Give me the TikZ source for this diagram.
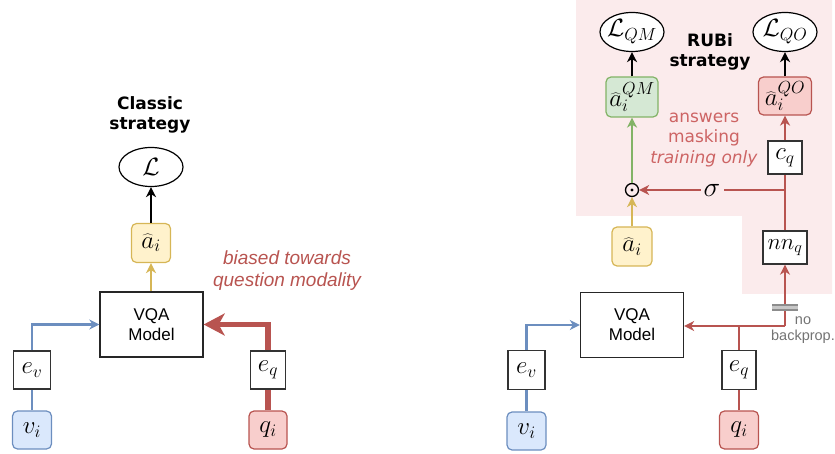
\documentclass[tikz,border=0pt]{standalone}
\usepackage{fix-cm}
\usepackage{fontspec}
\newfontfamily\arialf{Liberation Sans}
\newfontfamily\verdf{DejaVu Sans}
\usetikzlibrary{arrows.meta,shapes.geometric}
\definecolor{pinkbg}{RGB}{251,235,236}
\definecolor{redl}{RGB}{184,84,80}
\definecolor{redtxt}{RGB}{205,100,100}
\definecolor{bluel}{RGB}{108,142,191}
\definecolor{yell}{RGB}{214,182,86}
\definecolor{greenl}{RGB}{130,179,102}
\definecolor{yelf}{RGB}{255,242,204}
\definecolor{greenf}{RGB}{213,232,212}
\definecolor{redf}{RGB}{248,206,204}
\definecolor{bluef}{RGB}{218,232,252}
\begin{document}
\begin{tikzpicture}[x=1pt,y=-1pt,
  mfont/.style={font=\fontsize{25}{28}\selectfont},
  plainbox/.style={draw=black!80,line width=1.3pt,fill=white,inner sep=0pt,mfont},
  colbox/.style={rounded corners=5pt,line width=1.2pt,inner sep=0pt,mfont},
  ybox/.style={colbox,draw=yell,fill=yelf},
  gbox/.style={colbox,draw=greenl,fill=greenf},
  rbox/.style={colbox,draw=redl,fill=redf},
  bbox/.style={colbox,draw=bluel,fill=bluef},
  ellip/.style={ellipse,draw=black,line width=1.2pt,fill=white,minimum width=64pt,minimum height=39pt,inner sep=0pt},
  ltext/.style={font=\fontsize{25}{28}\selectfont,inner sep=0pt},
  vqa/.style={draw=black!85,line width=1.3pt,fill=white,minimum width=103pt,minimum height=65pt,align=center,font=\arialf\fontsize{17}{20}\selectfont},
  arr/.style={-{Stealth[length=10pt,width=10pt,inset=3pt]}},
  bigarr/.style={-{Stealth[length=21pt,width=22pt,inset=6pt]}},
  kline/.style={draw=black,line width=2.2pt},
  yline/.style={draw=yell,line width=2.4pt},
  gline/.style={draw=greenl,line width=2.4pt},
  rline/.style={draw=redl,line width=2.4pt},
  bline/.style={draw=bluel,line width=2.4pt},
  thickred/.style={draw=redl,line width=5.5pt},
  title/.style={align=center,font=\verdf\bfseries\fontsize{17}{20}\selectfont},
]
\useasboundingbox (0,0) rectangle (835,454);
\fill[pinkbg] (576,0) -- (832,0) -- (832,294) -- (742,294) -- (742,216) -- (576,216) -- cycle;

% ---------- left panel ----------
\node[title] (t1) at (150,115) {Classic\\strategy};
\node[vqa] (vqa1) at (151.5,324.5) {VQA\\Model};
\node[ellip,label={[ltext]center:$\mathcal{L}$}] (L1) at (151,167) {};
\node[ybox,minimum width=39pt,minimum height=39pt] (a1) at (151,243) {$\widehat{a}_i$};
\node[plainbox,minimum width=37pt,minimum height=38pt] (ev1) at (32,370) {$e_v$};
\node[bbox,minimum width=39pt,minimum height=38pt] (v1) at (32,430) {$v_i$};
\node[plainbox,minimum width=35pt,minimum height=38pt] (eq1) at (268,370) {$e_q$};
\node[rbox,minimum width=38pt,minimum height=38pt] (q1) at (268,430) {$q_i$};
\node[align=center,text=redl,font=\arialf\itshape\fontsize{19}{22}\selectfont] (bias) at (287,271) {biased towards\\question modality};

\draw[yline,arr] (a1|-vqa1.north) -- (a1.south);
\draw[kline,arr] (a1) -- (L1);
\draw[bline] (v1) -- (ev1);
\draw[bline,arr] (ev1.north) |- (vqa1.west);
\draw[thickred] (q1) -- (eq1);
\draw[thickred,bigarr] (eq1.north) |- (vqa1.east);

% ---------- right panel ----------
\node[title] (t2) at (710,52) {RUBi\\strategy};
\node[vqa] (vqa2) at (632,325) {VQA\\Model};
\node[ybox,minimum width=40pt,minimum height=39pt] (a2) at (632,246.5) {$\widehat{a}_i$};
\node[circle,draw=black,line width=1.3pt,minimum size=13pt,inner sep=0pt] (odot) at (632,190) {};
\fill (odot.center) circle (1.6pt);
\node[gbox,minimum width=52pt,minimum height=40pt] (aQM) at (632,97) {${\widehat{a}}_i^{QM}$};
\node[ellip,label={[ltext]center:$\mathcal{L}_{QM}$}] (LQM) at (632,32) {};
\node[ellip,label={[ltext]center:$\mathcal{L}_{QO}$}] (LQO) at (785,32) {};
\node[rbox,minimum width=53pt,minimum height=38pt] (aQO) at (785,96) {${\widehat{a}}_i^{QO}$};
\node[plainbox,minimum width=34pt,minimum height=33pt] (cq) at (785,157.5) {$c_q$};
\node[plainbox,minimum width=44pt,minimum height=33pt,font=\fontsize{23}{26}\selectfont] (nnq) at (785,247.5) {$nn_q$};
\node[plainbox,minimum width=37pt,minimum height=39pt] (ev2) at (526.5,370) {$e_v$};
\node[bbox,minimum width=39pt,minimum height=38pt] (v2) at (526.5,431) {$v_i$};
\node[plainbox,minimum width=34pt,minimum height=39pt] (eq2) at (739,370) {$e_q$};
\node[rbox,minimum width=39pt,minimum height=38pt] (q2) at (739,430) {$q_i$};
\node[fill=pinkbg,inner sep=3pt,font=\fontsize{28}{30}\selectfont] (sig) at (712,190) {$\sigma$};
\node[align=center,text=redtxt,font=\verdf\fontsize{17}{20.5}\selectfont] (mask) at (704,140) {answers\\masking\\\textit{training only}};
\node[align=center,text=black!55,font=\arialf\fontsize{14.5}{16}\selectfont] (nob) at (803,330) {no\\backprop.};

\coordinate (j1) at (785,190);
\coordinate (j2) at (785,326);
\coordinate (j3) at (739,326);

\draw[yline,arr] (a2) -- (odot);
\draw[gline,arr] (odot) -- (aQM);
\draw[kline,arr] (aQM) -- (LQM);
\draw[kline,arr] (aQO) -- (LQO);
\draw[rline,arr] (cq) -- (aQO);
\draw[rline] (nnq) -- (cq);
\draw[rline] (j1) -- (sig);
\draw[rline,arr] (sig) -- (odot);
\draw[rline] (q2) -- (eq2);
\draw[rline] (eq2) -- (j3);
\draw[rline,arr] (j2) -- (j2-|vqa2.east);
\draw[rline,arr] (j2) -- (nnq);
\draw[bline] (v2) -- (ev2);
\draw[bline,arr] (ev2.north) |- (vqa2.west);

% no-backprop break mark
\fill[black!22] (772,305) rectangle (798,310);
\draw[black!45,line width=1.6pt] (772,305) -- (798,305) (772,310) -- (798,310);
\end{tikzpicture}
\end{document}
